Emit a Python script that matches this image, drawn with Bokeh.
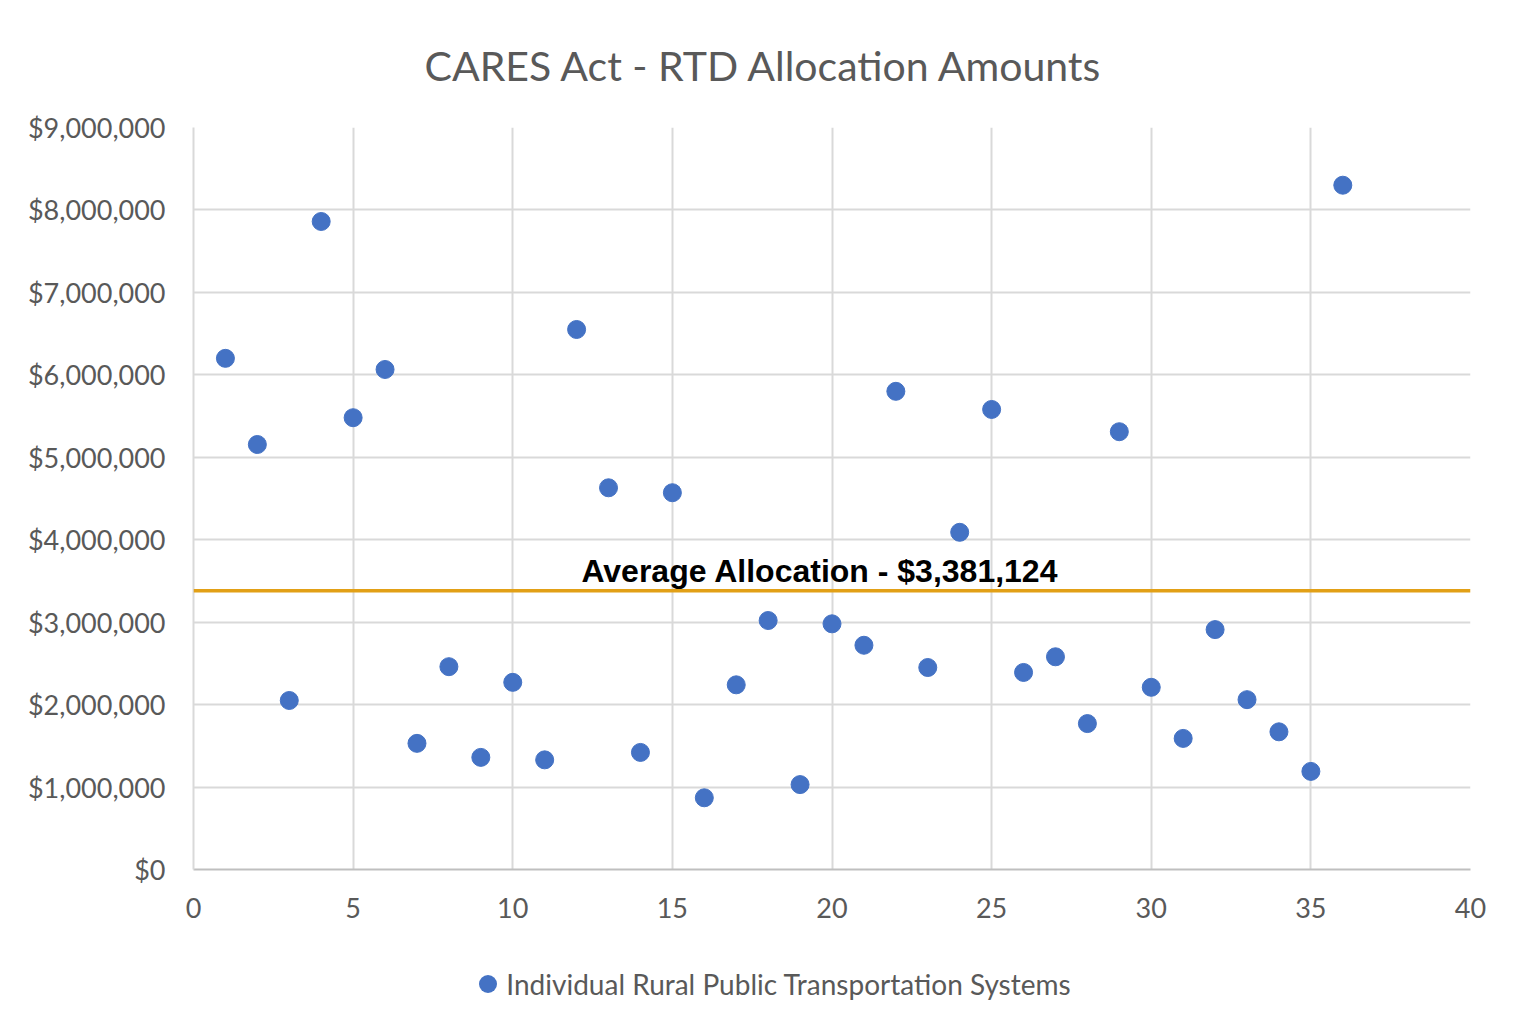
from bokeh.plotting import figure
from bokeh.layouts import column
from bokeh.models import ColumnDataSource, NumeralTickFormatter, FixedTicker, Span, Label, Range1d, Div
from bokeh.embed import file_html
from bokeh.resources import INLINE

system_no = list(range(1, 37))
allocation = [6200000, 5155000, 2050000, 7860000, 5480000, 6065000, 1530000, 2460000, 1360000,
              2270000, 1330000, 6550000, 4630000, 1420000, 4570000, 870000, 2240000, 3020000,
              1030000, 2980000, 2720000, 5800000, 2450000, 4090000, 5580000, 2390000, 2580000,
              1770000, 5310000, 2210000, 1590000, 2910000, 2060000, 1670000, 1190000, 8300000]
average_value = 3381124
average_label = "Average Allocation - $3,381,124"
series_name = "Individual Rural Public Transportation Systems"
title_text = "CARES Act - RTD Allocation Amounts"
x_ticks = [0, 5, 10, 15, 20, 25, 30, 35, 40]
y_ticks = [0, 1000000, 2000000, 3000000, 4000000, 5000000, 6000000, 7000000, 8000000, 9000000]

FONT = "Lato"
GRAY = "#595959"
BLUE = "#4472C4"

src = ColumnDataSource(dict(x=system_no, y=allocation))

p = figure(frame_width=1277, frame_height=742, output_backend="svg", toolbar_location=None,
           x_range=Range1d(0, 40), y_range=Range1d(0, 9000000),
           min_border_left=193, min_border_right=40, min_border_top=127, min_border_bottom=62,
           outline_line_color=None, background_fill_color="white", border_fill_color="white")

p.title.text = title_text
p.title.align = "left"
p.title.offset = 231
p.title.text_font = FONT
p.title.text_font_size = "41px"
p.title.text_font_style = "normal"
p.title.text_color = GRAY
p.title.standoff = 76

for ax in (p.xaxis[0], p.yaxis[0]):
    ax.major_tick_line_color = None
    ax.minor_tick_line_color = None
    ax.major_label_text_font = FONT
    ax.major_label_text_font_size = "27px"
    ax.major_label_text_color = GRAY
    ax.axis_line_width = 2

p.xaxis.ticker = FixedTicker(ticks=x_ticks)
p.yaxis.ticker = FixedTicker(ticks=y_ticks)
p.yaxis.formatter = NumeralTickFormatter(format="$0,0")
p.xaxis.axis_line_color = "#bfbfbf"
p.yaxis.axis_line_color = "#d9d9d9"
p.xaxis.major_label_standoff = 22
p.yaxis.major_label_standoff = 22

p.xgrid.ticker = FixedTicker(ticks=x_ticks)
p.ygrid.ticker = FixedTicker(ticks=y_ticks)
p.grid.grid_line_color = "#d9d9d9"
p.grid.grid_line_width = 2

avg = Span(location=average_value, dimension="width", line_color="#E2A016", line_width=3.5)
p.add_layout(avg)

r = p.scatter("x", "y", source=src, size=18, marker="circle", fill_color=BLUE, line_color=BLUE)

lbl = Label(x=12.15, y=average_value, text=average_label, text_font="Liberation Sans",
            text_font_size="32px", text_font_style="bold", text_color="black",
            x_offset=0, y_offset=2, text_baseline="bottom")
p.add_layout(lbl)

# legend strip below the chart
legend_html = (
    '<div style="width:1510px;text-align:center;line-height:88px;font-family:Lato;'
    'font-size:28px;color:%s;white-space:nowrap;">'
    '<span style="display:inline-block;width:18px;height:18px;border-radius:50%%;'
    'background:%s;vertical-align:middle;margin-left:30px;margin-right:9px;"></span>'
    '<span style="vertical-align:middle;">%s</span></div>' % (GRAY, BLUE, series_name)
)
leg = Div(text=legend_html, width=1510, height=88)

layout = column(p, leg, spacing=0)

open("out.html", "w").write(file_html(layout, INLINE))
